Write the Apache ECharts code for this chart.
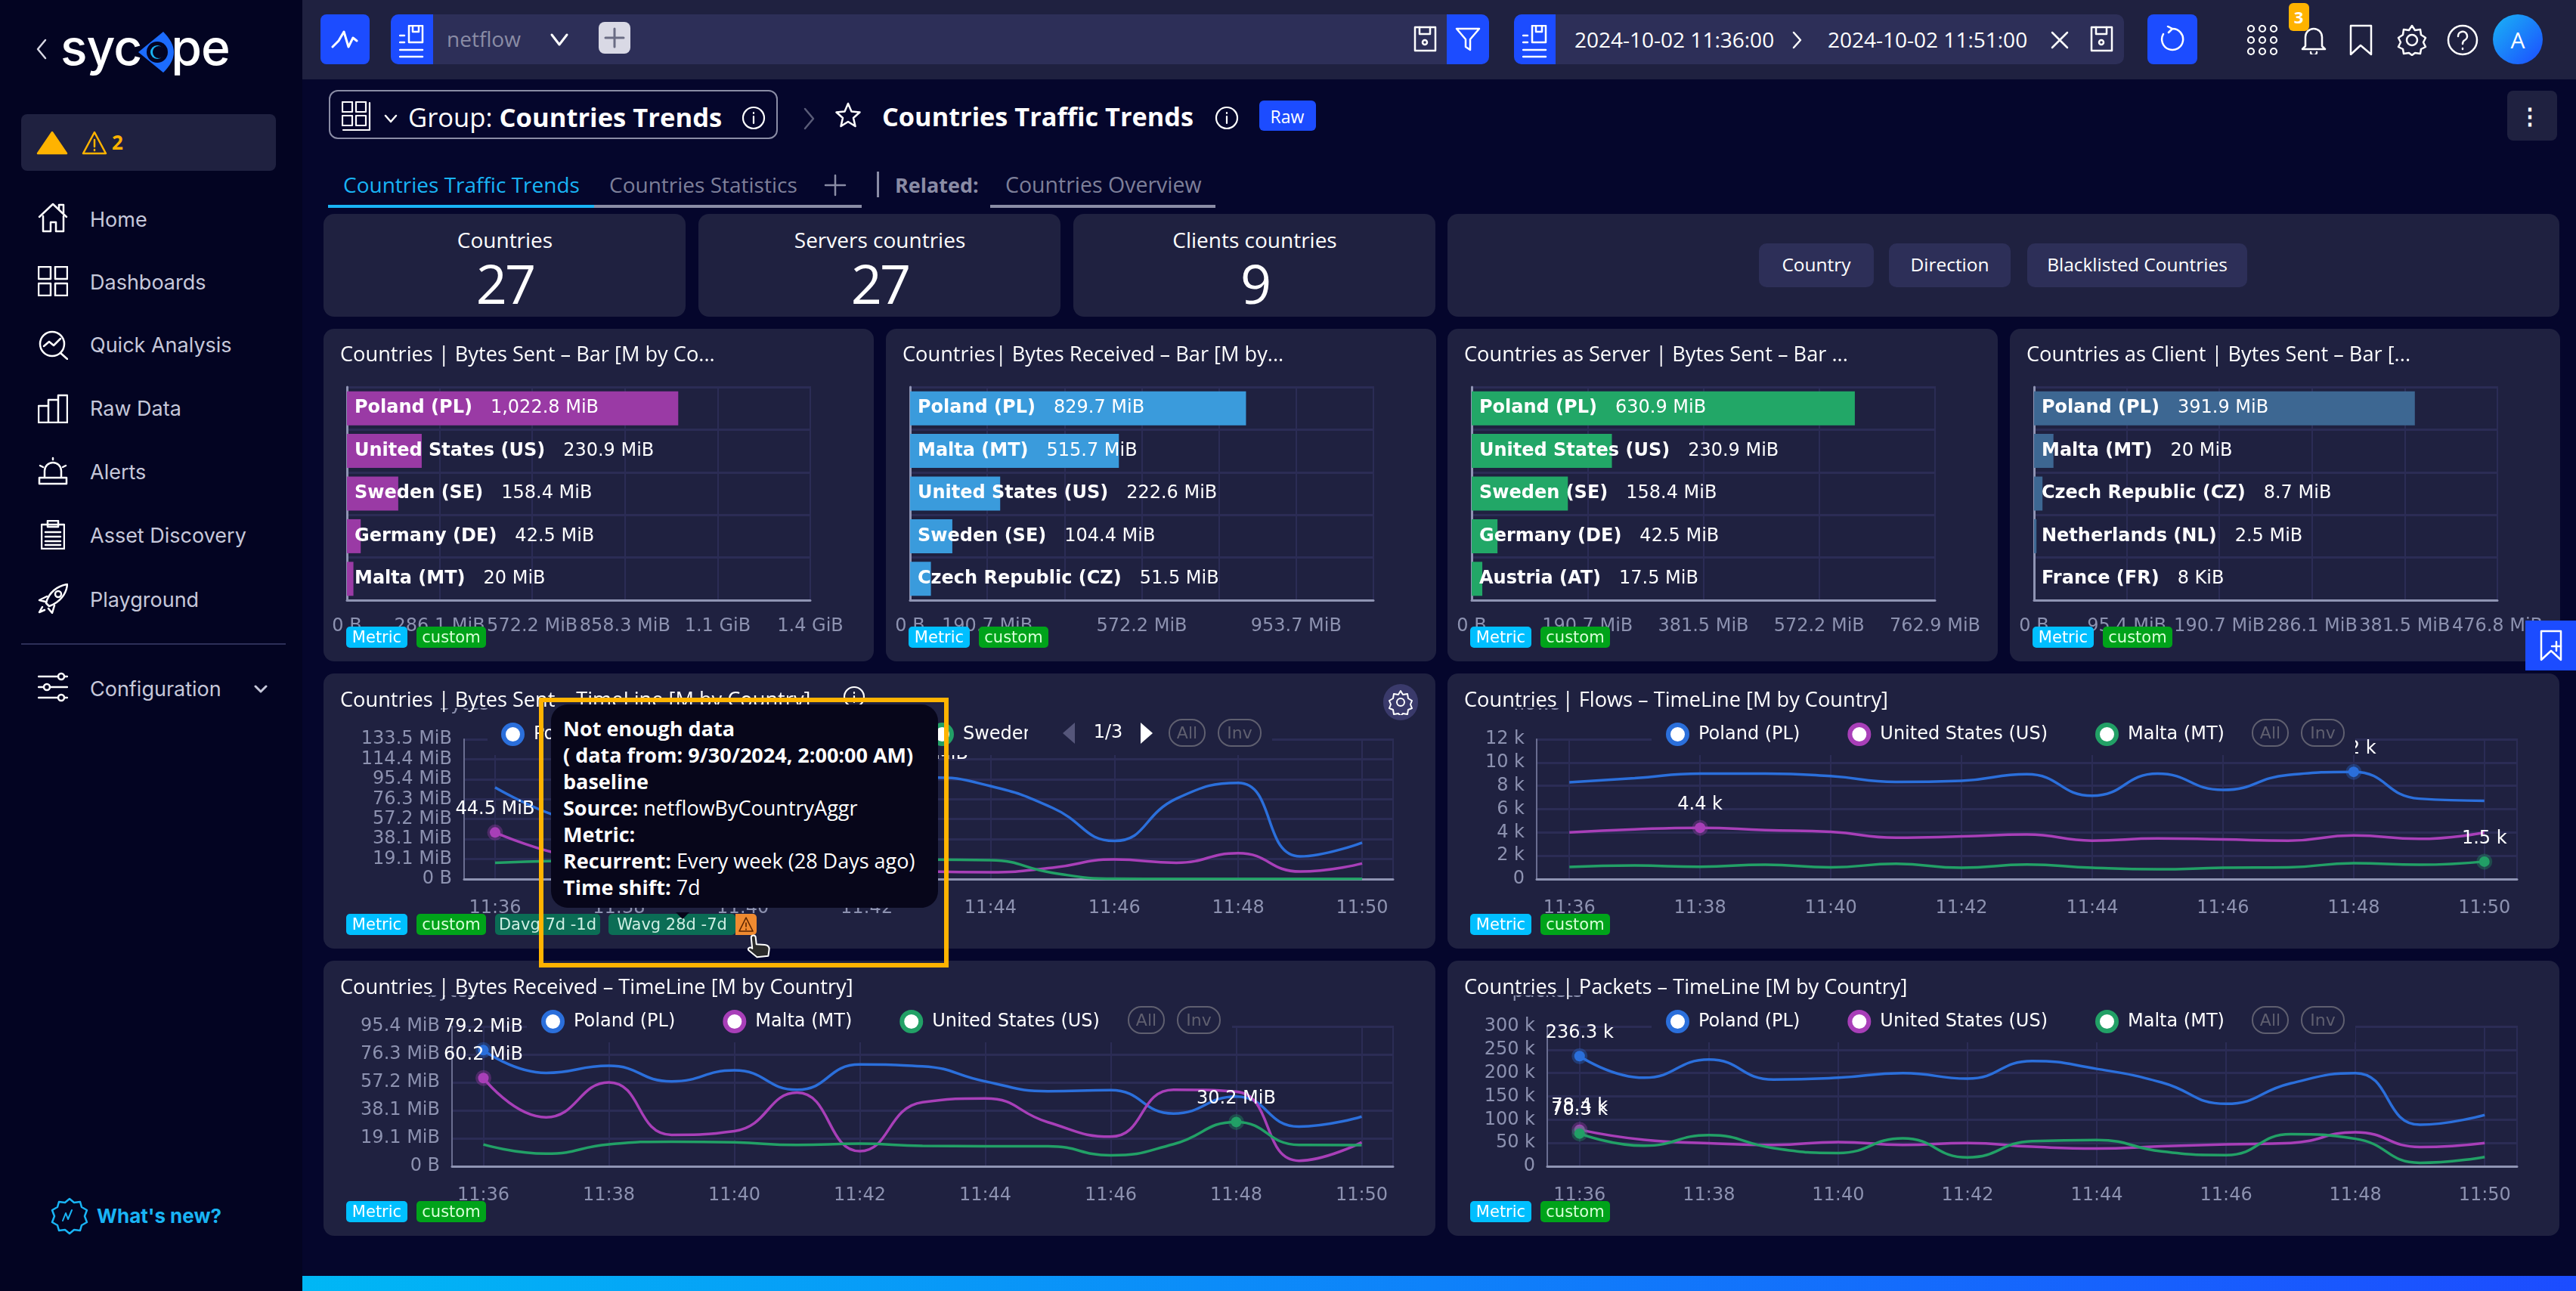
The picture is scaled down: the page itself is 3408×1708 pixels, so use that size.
<!DOCTYPE html>
<html>
<head>
<meta charset="utf-8">
<title>Countries Traffic Trends</title>
<script src="https://cdn.jsdelivr.net/npm/echarts@6/dist/echarts.min.js"></script>
<style>
html,body{margin:0;padding:0;width:3408px;height:1708px;overflow:hidden;background:#05062c;font-family:"Open Sans",sans-serif;color:#fff}
.abs{position:absolute;box-sizing:border-box}
.txt{position:absolute;white-space:nowrap;line-height:1}
</style>
</head>
<body>
<script>
// ---------- data ----------
var barSentNames = ['Poland (PL)','United States (US)','Sweden (SE)','Germany (DE)','Malta (MT)'];
var barSentValues = [1022.8,230.9,158.4,42.5,20];
var barSentLabels = ['1,022.8 MiB','230.9 MiB','158.4 MiB','42.5 MiB','20 MiB'];
var barSentTicks = ['0 B','286.1 MiB','572.2 MiB','858.3 MiB','1.1 GiB','1.4 GiB'];

var barRecvNames = ['Poland (PL)','Malta (MT)','United States (US)','Sweden (SE)','Czech Republic (CZ)'];
var barRecvValues = [829.7,515.7,222.6,104.4,51.5];
var barRecvLabels = ['829.7 MiB','515.7 MiB','222.6 MiB','104.4 MiB','51.5 MiB'];
var barRecvTicks = ['0 B','190.7 MiB','','572.2 MiB','','953.7 MiB',''];

var barServerNames = ['Poland (PL)','United States (US)','Sweden (SE)','Germany (DE)','Austria (AT)'];
var barServerValues = [630.9,230.9,158.4,42.5,17.5];
var barServerLabels = ['630.9 MiB','230.9 MiB','158.4 MiB','42.5 MiB','17.5 MiB'];
var barServerTicks = ['0 B','190.7 MiB','381.5 MiB','572.2 MiB','762.9 MiB'];

var barClientNames = ['Poland (PL)','Malta (MT)','Czech Republic (CZ)','Netherlands (NL)','France (FR)'];
var barClientValues = [391.9,20,8.7,2.5,0.008];
var barClientLabels = ['391.9 MiB','20 MiB','8.7 MiB','2.5 MiB','8 KiB'];
var barClientTicks = ['0 B','95.4 MiB','190.7 MiB','286.1 MiB','381.5 MiB','476.8 MiB'];

var minutes = ['11:36','11:37','11:38','11:39','11:40','11:41','11:42','11:43','11:44','11:45','11:46','11:47','11:48','11:49','11:50'];

var sentTicks = ['0 B','19.1 MiB','38.1 MiB','57.2 MiB','76.3 MiB','95.4 MiB','114.4 MiB','133.5 MiB'];
var sentPoland = [87.5,60,46,62,55,71,84,97,88.7,68,36.4,76.7,91.8,21.6,34.8];
var sentUS = [44.5,24.5,15,12,9,11,10,7.2,6.5,10.8,18.7,15.6,24.7,7.2,14.9];
var sentSweden = [15.6,17.3,18,17,19,18,17,18.5,18,6,0.3,0.2,0.2,0.2,0.2];

var flowTicks = ['0','2 k','4 k','6 k','8 k','10 k','12 k'];
var flowPoland = [8.3,8.66,9.05,9.05,8.83,8.34,8.44,9.0,7.15,9.05,7.65,8.94,9.2,6.9,6.72];
var flowUS = [4.0,4.27,4.4,4.2,4.05,3.55,3.66,3.83,3.3,3.49,3.4,3.3,3.75,3.45,3.99];
var flowMalta = [1.03,1.16,1.06,1.23,1.01,1.31,0.97,1.25,0.97,0.84,0.97,1.01,1.36,1.23,1.5];

var recvTicks = ['0 B','19.1 MiB','38.1 MiB','57.2 MiB','76.3 MiB','95.4 MiB'];
var recvPoland = [79.2,63.7,68.5,57.9,65.4,52.2,69.4,68.2,57.9,51.2,51.9,36,47.6,27.1,33.9];
var recvMalta = [60.2,33.4,57.2,21.4,24,50.2,10.3,43.7,46.2,30,20.2,52.2,50.9,3.8,16.3];
var recvUS = [14.9,8.6,14.9,16.8,16.3,14.6,15.4,13.9,13.7,13.7,7.5,15.1,30.2,14.6,14.4];

var packetTicks = ['0','50 k','100 k','150 k','200 k','250 k','300 k'];
var packetPoland = [236.3,190,229,186,190,200,188,226,209,180,134,178,200,89,110];
var packetUS = [78.4,56.6,49.6,46,52,46,50,42,38,43,47,50,73,41.5,50];
var packetMalta = [70.3,44,67,39,28.5,60,19,54,56.5,32,24,69,59,7.5,20];

// ---------- colours ----------
var PANEL = '#1f2140', FIELD = '#2d2f58', BLUE = '#1c4cff', GRID = '#2b2c55', AXIS = '#8f94b3', TICK = '#8d92b0';
var C_BLUE = '#2b6fdb', C_PURPLE = '#a83fb8', C_GREEN = '#22a066';
var CHART_FONT = '"DejaVu Sans"';

// ---------- page helpers ----------
function box(x,y,w,h,bg,r,css){
    var d = document.createElement('div');
    d.className = 'abs';
    d.style.cssText = 'left:'+x+'px;top:'+y+'px;width:'+w+'px;height:'+h+'px;background:'+bg+';border-radius:'+(r||0)+(typeof r=='string'?'':'px')+';'+(css||'');
    document.body.appendChild(d);
    return d;
}
// cy is the vertical centre of the text, align: l or c
function label(s,x,cy,size,color,css,align){
    var d = document.createElement('div');
    d.className = 'txt';
    d.innerHTML = s;
    var tx = align=='c' ? '-50%' : '0';
    d.style.cssText = 'left:'+x+'px;top:'+cy+'px;font-size:'+size+'px;color:'+color+';transform:translate('+tx+',-50%);'+(css||'');
    document.body.appendChild(d);
    return d;
}
function icon(x,y,w,h,inner,sw,color){
    var d = document.createElement('div');
    d.className = 'abs';
    d.style.cssText = 'left:'+x+'px;top:'+y+'px;width:'+w+'px;height:'+h+'px';
    d.innerHTML = '<svg xmlns="http://www.w3.org/2000/svg" width="'+w+'" height="'+h+'" viewBox="0 0 '+w+' '+h+'" fill="none" stroke="'+(color||'#fff')+'" stroke-width="'+(sw||2.5)+'" stroke-linejoin="round" stroke-linecap="round">'+inner+'</svg>';
    document.body.appendChild(d);
    return d;
}
function badge(s,x,w,y,bg,color){
    box(x,y,w,28,bg,5);
    label(s,x+w/2,y+14,21,color||'#fff','font-family:"DejaVu Sans";','c');
}
var docIcon = '<rect x="13" y="1" width="18" height="22"/><path d="M18 1v8h8V1M1 14h6M1 23h6M1 33h30M1 42h30"/>';
var saveIcon = '<rect x="2" y="2" width="27" height="31"/><path d="M8 2v9h14V2"/><circle cx="15" cy="22" r="3"/>';
var infoIcon = '<circle cx="16" cy="17" r="14"/><path d="M16 15v9M16 10v1"/>';

// ---------- sidebar ----------
box(0,0,400,1708,'#030422');
label('syc<span style="color:transparent">o</span>pe',80,62,66,'#fff','font-family:Inter;font-weight:500;letter-spacing:-1px;');
icon(180,40,52,58,'<path d="M36 2L3 29l33 27c9-9 14-18 14-27S45 11 36 2z" fill="#1c6cff" stroke="none"/><circle cx="28" cy="29" r="14" fill="#030422" stroke="none"/><circle cx="28" cy="29" r="9" fill="#19b4f5" stroke="none"/><circle cx="30" cy="29" r="8" fill="#030422" stroke="none"/>');
icon(47,50,16,30,'<path d="M13 3L3 15l10 12"/>',2.5,'#d8d8e4');
box(28,151,337,75,PANEL,8);
icon(48,173,42,32,'<path d="M21 2L40 30H2z" fill="#ffb300" stroke="#ffb300"/>');
icon(108,173,34,32,'<path d="M17 2L32 30H2z"/><path d="M17 12v9M17 25v1"/>',2.5,'#ffb300');
label('2',148,188,26,'#ffb300','font-weight:700;');
var menuNames = ['Home','Dashboards','Quick Analysis','Raw Data','Alerts','Asset Discovery','Playground'];
var menuY = [290,373,456,540,624,708,793];
for(var m=0;m<menuNames.length;m++){
    label(menuNames[m],119,menuY[m],27,'#c6c8da','font-family:Inter;font-weight:400;');
}
label('Configuration',119,911,27,'#c6c8da','font-family:Inter;');
icon(336,902,18,14,'<path d="M2 3l7 7 7-7"/>',3,'#c6c8da');
box(28,851,350,2,'#2d2f58');
icon(50,268,40,40,'<path d="M2 19L20 2l18 17"/><path d="M28 8V3h6v11"/><path d="M7 18v20h10V26h7v12h10V18"/>');
icon(50,352,40,40,'<rect x="1" y="1" width="16" height="16"/><rect x="23" y="1" width="16" height="16"/><rect x="1" y="23" width="16" height="16"/><rect x="23" y="23" width="16" height="16"/>');
icon(50,436,40,40,'<circle cx="19" cy="19" r="16"/><path d="M30 31l9 8M8 22l7-6 6 5 9-9"/>');
icon(50,521,40,39,'<path d="M1 38h38V2H27v36M27 8H14v30M14 16H1v22"/>');
icon(50,604,40,38,'<path d="M9 28v-9a11 11 0 0 1 22 0v9M2 28h36v8H2zM20 2v2M3 12l4 2M37 12l-4 2"/>');
icon(54,688,32,39,'<rect x="1" y="6" width="30" height="32"/><rect x="9" y="1" width="14" height="8"/><path d="M6 16h20M6 22h20M6 28h20M6 33h20"/>');
icon(50,772,40,40,'<path d="M11 26C14 12 26 3 39 1c-1 13-10 24-24 29z"/><circle cx="27" cy="14" r="4"/><path d="M12 17l-10 5 8 2M22 29l-3 10-5-6M6 31l-4 7 7-3"/>');
icon(50,889,40,40,'<path d="M1 6h26M36 6h3M1 20h6M16 20h23M1 34h26M36 34h3"/><circle cx="31" cy="6" r="4"/><circle cx="12" cy="20" r="4"/><circle cx="31" cy="34" r="4"/>');
icon(66,1583,52,52,'<path d="M26 3l6 5 8-1 2 7 7 4-3 8 3 8-7 4-2 7-8-1-6 5-6-5-8 1-2-7-7-4 3-8-3-8 7-4 2-7 8 1z"/><path d="M17 32l4-10 3 8 5-12" stroke-width="2"/>',2.5,'#19b4f5');
label("What's new?",128,1609,26,'#19b4f5','font-family:Inter;font-weight:700;');

// ---------- top bar ----------
box(400,0,3008,105,PANEL);
box(424,19,65,66,BLUE,8);
icon(438,40,36,26,'<path d="M2 22l8-8 7-12 6 20 6-12 5 4"/>',3);
box(517,19,1453,66,FIELD,10);
box(517,19,56,66,BLUE,'10px 0 0 10px');
icon(528,33,33,44,docIcon,2.5);
label('netflow',591,51,28,'#8a8ca5');
icon(727,43,26,20,'<path d="M3 3l10 13L23 3"/>',3);
box(792,29,42,42,'#d9d9e5',8);
icon(796,33,34,34,'<path d="M17 5v24M5 17h24"/>',3,'#6a6c84');
icon(1870,34,31,36,saveIcon,2.5);
box(1914,19,56,66,BLUE,'0 10px 10px 0');
icon(1925,36,34,32,'<path d="M2 2h30L20 16v14l-6-4V16z"/>',2.5);
box(2003,19,807,66,FIELD,10);
box(2003,19,55,66,BLUE,'10px 0 0 10px');
icon(2014,33,33,44,docIcon,2.5);
label('2024-10-02 11:36:00',2083,52,28,'#fff');
icon(2370,40,16,26,'<path d="M3 3l9 10-9 10"/>',2.5);
label('2024-10-02 11:51:00',2418,52,28,'#fff');
icon(2712,40,26,26,'<path d="M3 3l20 20M23 3L3 23"/>',2.5);
icon(2765,34,31,36,saveIcon,2.5);
box(2841,19,66,66,BLUE,8);
icon(2856,34,36,36,'<path d="M18 4a14 14 0 1 1-12 7M18 4l-6-3M18 4l-5 5"/>',2.5);
icon(2972,32,42,42,'<circle cx="6" cy="6" r="4"/><circle cx="21" cy="6" r="4"/><circle cx="36" cy="6" r="4"/><circle cx="6" cy="21" r="4"/><circle cx="21" cy="21" r="4"/><circle cx="36" cy="21" r="4"/><circle cx="6" cy="36" r="4"/><circle cx="21" cy="36" r="4"/><circle cx="36" cy="36" r="4"/>',2.2);
icon(3044,34,34,38,'<path d="M6 27V15a11 11 0 0 1 22 0v12l4 4H2z"/><path d="M13 35a4 4 0 0 0 8 0"/>',2.5);
box(3028,4,27,37,'#ffb300',6);
label('3',3041,22,22,'#fff','font-weight:700;','c');
icon(3108,32,31,42,'<path d="M2 2h27v38L15 28 2 40z"/>',2.5);
icon(3170,32,42,42,'<circle cx="21" cy="21" r="7"/><path d="M21 2l4 6 7-1 1 7 6 4-3 6 3 6-6 3-1 6-7-1-4 3-4-3-7 1-1-6-6-3 3-6-3-6 6-4 1-7 7 1z"/>',2.5);
icon(3237,32,42,42,'<circle cx="21" cy="21" r="19"/><path d="M15 16a6 6 0 1 1 9 5c-2 1-3 3-3 5M21 32v1"/>',2.5);
box(3298,19,66,66,'linear-gradient(135deg,#19b4f5,#1c4cff)',33);
label('A',3331,53,30,'#fff','','c');

// ---------- header row ----------
box(435,119,594,65,'transparent',12,'border:2.5px solid #8a8ca5;');
icon(452,134,40,40,'<rect x="1" y="1" width="13" height="13"/><rect x="19" y="1" width="13" height="13"/><rect x="1" y="19" width="13" height="13"/><rect x="19" y="19" width="13" height="13"/><path d="M37 2v36H2"/>',2.2);
icon(508,148,18,14,'<path d="M2 2l7 8 7-8"/>',2.5);
label('Group: <b style="font-weight:700">Countries Trends</b>',540,155,34.6,'#fff');
icon(981,139,32,34,infoIcon,2.2);
icon(1062,141,18,32,'<path d="M3 3l11 13L3 29"/>',2.5,'#5a5c78');
icon(1105,135,34,34,'<path d="M17 2l4.5 10.5 11 1-8.5 7.5 2.5 11L17 26l-9.5 6L10 21 1.5 13.5l11-1z"/>',2.5);
label('Countries Traffic Trends',1167,154,34.3,'#fff','font-weight:700;');
icon(1607,139,32,34,infoIcon,2.2);
box(1666,133,75,40,BLUE,6);
label('Raw',1703,154,23,'#fff','','c');
box(3317,120,66,66,PANEL,8);
label('&#8942;',3347,153,30,'#fff','font-weight:700;','c');

// tabs
label('Countries Traffic Trends',454,244,28,'#19b4f5');
label('Countries Statistics',806,244,28,'#7d7f99');
icon(1090,230,30,30,'<path d="M15 2v26M2 15h26"/>',2.5,'#8a8ca5');
box(1160,227,3,34,'#8a8ca5');
label('Related:',1184,244,27,'#8a8ca5','font-weight:700;');
label('Countries Overview',1330,244,28.5,'#7d7f99');
box(434,271,352,4,'#19b4f5');
box(786,271,354,4,'#8a8ca5');
box(1310,271,298,4,'#8a8ca5');

// stat cards
var statNames = ['Countries','Servers countries','Clients countries'];
var statValues = ['27','27','9'];
var statX = [428,924,1420];
for(var s=0;s<3;s++){
    box(statX[s],283,479,136,PANEL,14);
    label(statNames[s],statX[s]+240,317,28,'#fff','','c');
    label(statValues[s],statX[s]+240,374,72,'#fff','letter-spacing:-3px;','c');
}
box(1915,283,1471,136,PANEL,14);
var filterNames = ['Country','Direction','Blacklisted Countries'];
var filterX = [2327,2499,2682];
var filterW = [152,161,291];
for(var f=0;f<3;f++){
    box(filterX[f],322,filterW[f],58,FIELD,10);
    label(filterNames[f],filterX[f]+filterW[f]/2,350,24.5,'#fff','','c');
}
box(400,1688,3008,20,'linear-gradient(90deg,#00b7f5,#1c4cff)');

// ---------- charts ----------
function chartAt(x,y,w,h){
    var d = box(x,y,w,h,'transparent');
    return echarts.init(d);
}
function tickText(ticks,interval){
    return function(v){ return ticks[Math.round(v/interval)]; };
}
function drawBar(px,title,gx,names,values,texts,ticks,interval,color){
    box(px,435,728,440,PANEL,14);
    var chart = chartAt(px,435,728,440);
    chart.setOption({
        animation:false,
        grid:{left:gx-px,top:77,width:613,height:282,show:true,borderColor:GRID,borderWidth:2},
        xAxis:{type:'value',min:0,max:(ticks.length-1)*interval,interval:interval,
            axisLine:{show:true,lineStyle:{color:AXIS,width:3}},axisTick:{show:false},
            splitLine:{show:true,lineStyle:{color:GRID,width:2}},
            axisLabel:{formatter:tickText(ticks,interval),color:TICK,fontSize:24,fontFamily:CHART_FONT,margin:23,hideOverlap:false}},
        yAxis:{type:'category',inverse:true,data:names,
            axisLine:{show:true,lineStyle:{color:AXIS,width:3}},axisTick:{show:false},axisLabel:{show:false},
            splitLine:{show:true,lineStyle:{color:GRID,width:3}}},
        series:[{type:'bar',data:values,barWidth:45,itemStyle:{color:color},
            label:{show:true,position:'insideLeft',distance:10,
                formatter:function(p){ return '{n|'+p.name+'}{v|'+texts[p.dataIndex]+'}'; },
                rich:{n:{fontFamily:CHART_FONT,fontSize:24,fontWeight:'bold',color:'#fff',padding:[0,24,0,0]},
                      v:{fontFamily:CHART_FONT,fontSize:24,color:'#fff'}}}}]
    });
    label(title,px+22,468,27.2,'#fff');
    badge('Metric',px+30,81,829,'#00bfff');
    badge('custom',px+123,92,829,'#00a31a','#d8ffd8');
}
drawBar(428,'Countries | Bytes Sent – Bar [M by Co...',459,barSentNames,barSentValues,barSentLabels,barSentTicks,286.1,'#9a3aa5');
drawBar(1172,'Countries| Bytes Received – Bar [M by...',1204,barRecvNames,barRecvValues,barRecvLabels,barRecvTicks,190.73,'#3a9bdc');
drawBar(1915,'Countries as Server | Bytes Sent – Bar ...',1947,barServerNames,barServerValues,barServerLabels,barServerTicks,190.73,'#22a767');
drawBar(2659,'Countries as Client | Bytes Sent – Bar [...',2691,barClientNames,barClientValues,barClientLabels,barClientTicks,95.37,'#3d6792');

// marks: [index, text] of the points that carry a value label
function lineData(values,marks,color){
    return values.map(function(v,i){
        for(var k=0;k<marks.length;k++){
            if(marks[k][0]==i){
                return {value:v,symbol:'circle',symbolSize:14,
                    itemStyle:{color:color,borderColor:color+'55',borderWidth:7},
                    label:{show:true,position:'top',distance:8,formatter:marks[k][1],color:'#fff',fontSize:24,fontFamily:CHART_FONT}};
            }
        }
        return v;
    });
}
function drawLine(o){
    var px = o.x, py = o.y;
    box(px,py,o.w,364,PANEL,14);
    var chart = chartAt(px,py,o.w,364);
    var series = o.series.map(function(s){
        return {name:s.name,type:'line',smooth:true,symbol:'none',showSymbol:true,showAllSymbol:true,
            data:lineData(s.values,s.marks,s.color),
            lineStyle:{color:s.color,width:3.5},itemStyle:{color:s.color}};
    });
    chart.setOption({
        animation:false,
        legend:{show:true,z:60,padding:0,left:o.legendX-px,top:65,icon:'circle',itemWidth:25,itemHeight:25,itemGap:63,
            itemStyle:{color:'#fff',borderWidth:6},
            textStyle:{color:'#fff',fontSize:24,fontFamily:CHART_FONT,padding:[0,0,0,10]},
            data:o.series.map(function(s){ return {name:s.name,itemStyle:{color:'#fff',borderColor:s.color,borderWidth:6}}; })},
        graphic:o.masks.map(function(r){
            return {type:'rect',z:r[4],silent:true,shape:{x:r[0]-px,y:r[1]-py,width:r[2],height:r[3]},style:{fill:PANEL}};
        }),
        grid:{left:o.gridX-px,top:87,width:o.gridR-o.gridX,height:185,show:true,borderColor:GRID,borderWidth:2},
        xAxis:{type:'category',data:minutes,boundaryGap:true,
            axisLine:{show:true,lineStyle:{color:AXIS,width:3}},axisTick:{show:false},
            splitLine:{show:true,alignWithLabel:true,interval:1,lineStyle:{color:GRID,width:2}},
            axisLabel:{interval:1,color:TICK,fontSize:24,fontFamily:CHART_FONT,margin:27}},
        yAxis:{type:'value',min:0,max:(o.ticks.length-1)*o.interval,interval:o.interval,
            name:o.unit,nameLocation:'end',nameGap:33,nameTextStyle:{color:TICK,fontSize:24,fontFamily:CHART_FONT},
            axisLine:{show:true,lineStyle:{color:'#6a6e90',width:2}},axisTick:{show:false},
            splitLine:{show:true,lineStyle:{color:GRID,width:3}},
            axisLabel:{formatter:tickText(o.ticks,o.interval),color:TICK,fontSize:24,fontFamily:CHART_FONT,margin:16,hideOverlap:false}},
        series:series
    });
    // title strip hides most of the unit name, as in the product
    box(px+10,py+14,1100,32,PANEL);
    label(o.title,px+22,py+34,27.2,'#fff');
    badge('Metric',px+30,81,py+318,'#00bfff');
    badge('custom',px+123,92,py+318,'#00a31a','#d8ffd8');
    pill('All',o.pillX,49);
    pill('Inv',o.pillX+65,58);
    function pill(t,x,w){
        box(x,py+60,w,37,'transparent',18,'border:2px solid #5f5f6f;');
        label(t,x+w/2,py+79,22,'#5f5f6f','font-family:"DejaVu Sans";','c');
    }
}
drawLine({x:428,y:891,w:1471,title:'Countries | Bytes Sent – TimeLine [M by Country]',unit:'bytes',
    gridX:614,gridR:1843,legendX:663,pillX:1546,ticks:sentTicks,interval:19.07,
    masks:[[645,945,1038,54,50],[1360,945,85,54,70]],
    series:[{name:'Poland (PL)',values:sentPoland,marks:[[7,'97.1 MiB']],color:C_BLUE},
            {name:'United States (US)',values:sentUS,marks:[[0,'44.5 MiB']],color:C_PURPLE},
            {name:'Sweden (SE)',values:sentSweden,marks:[],color:C_GREEN}]});
drawLine({x:1915,y:891,w:1471,title:'Countries | Flows – TimeLine [M by Country]',unit:'flows',
    gridX:2033,gridR:3330,legendX:2204,pillX:2979,ticks:flowTicks,interval:2,
    masks:[[2185,945,931,54,50]],
    series:[{name:'Poland (PL)',values:flowPoland,marks:[[12,'9.2 k']],color:C_BLUE},
            {name:'United States (US)',values:flowUS,marks:[[2,'4.4 k']],color:C_PURPLE},
            {name:'Malta (MT)',values:flowMalta,marks:[[14,'1.5 k']],color:C_GREEN}]});
drawLine({x:428,y:1271,w:1471,title:'Countries | Bytes Received – TimeLine [M by Country]',unit:'bytes',
    gridX:598,gridR:1843,legendX:716,pillX:1492,ticks:recvTicks,interval:19.07,
    masks:[[697,1325,933,54,50]],
    series:[{name:'Poland (PL)',values:recvPoland,marks:[[0,'79.2 MiB']],color:C_BLUE},
            {name:'Malta (MT)',values:recvMalta,marks:[[0,'60.2 MiB']],color:C_PURPLE},
            {name:'United States (US)',values:recvUS,marks:[[12,'30.2 MiB']],color:C_GREEN}]});
drawLine({x:1915,y:1271,w:1471,title:'Countries | Packets – TimeLine [M by Country]',unit:'packets',
    gridX:2047,gridR:3330,legendX:2204,pillX:2979,ticks:packetTicks,interval:50,
    masks:[[2185,1325,931,54,50]],
    series:[{name:'Poland (PL)',values:packetPoland,marks:[[0,'236.3 k']],color:C_BLUE},
            {name:'United States (US)',values:packetUS,marks:[[0,'78.4 k']],color:C_PURPLE},
            {name:'Malta (MT)',values:packetMalta,marks:[[0,'70.3 k']],color:C_GREEN}]});

// ---------- extras of the first timeline panel ----------
icon(1405,955,18,30,'<path d="M17 1v28L1 15z" fill="#55567a" stroke="none"/>');
label('1/3',1466,968,24,'#fff','font-family:"DejaVu Sans";','c');
icon(1508,955,18,30,'<path d="M1 1v28l16-14z" fill="#fff" stroke="none"/>');
box(1830,905,46,48,'#3a3a6b',24);
icon(1836,912,34,34,'<circle cx="17" cy="17" r="5"/><path d="M17 2l3 5 6-1 1 6 5 3-2 5 2 5-5 2-1 6-6-1-3 3-3-3-6 1-1-6-5-2 2-5-2-5 5-3 1-6 6 1z"/>',2);
icon(1113,907,34,30,'<circle cx="17" cy="15" r="13"/><path d="M17 14v8M17 9v1"/>',2.2);
badge('Davg 7d -1d',655,139,1209,'#0b6d55','#cdeee3');
badge('Wavg 28d -7d',805,168,1209,'#0b6d55','#cdeee3');
box(973,1209,28,28,'#f08a30','0 5px 5px 0');
icon(976,1212,22,22,'<path d="M11 2l9 18H2z"/><path d="M11 9v5M11 17v1"/>',1.6,'#5a2400');
box(713,923,542,357,'transparent',0,'border:6px solid #ffb300;');

// ---------- tooltip over the warning badge ----------
box(729,932,512,269,'#07061a',22);
icon(893,1200,20,10,'<path d="M1 0h18L10 9z" fill="#07061a" stroke="none"/>');
var tipLines = ['<b>Not enough data</b>','<b>( data from: 9/30/2024, 2:00:00 AM)</b>','<b>baseline</b>',
    '<b>Source:</b> netflowByCountryAggr','<b>Metric:</b>','<b>Recurrent:</b> Every week (28 Days ago)','<b>Time shift:</b> 7d'];
for(var t=0;t<tipLines.length;t++){
    label(tipLines[t],745,963+t*35,27,'#fff');
}
// hand pointer
icon(984,1236,38,32,'<path d="M11 18V4a3 3 0 0 1 6 0v9l11 2c4 1 6 3 5 7l-2 8H16L6 20c-2-3 2-5 5-2z" fill="#2a2a2a" transform="rotate(-6 19 16)"/>',2,'#fff');

// ---------- side bookmark button ----------
box(3341,821,67,66,BLUE);
icon(3360,833,30,44,'<path d="M2 2h26v38L15 28 2 40z"/><path d="M28 22h-12M22 16v12"/>',2.5);
</script>
</body>
</html>
